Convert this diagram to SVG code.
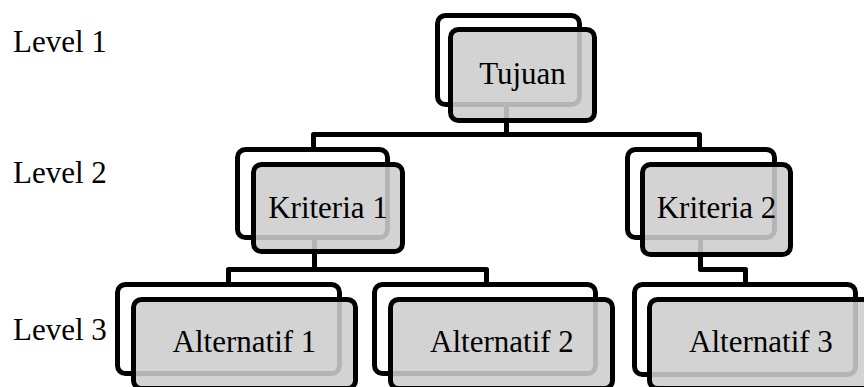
<svg xmlns="http://www.w3.org/2000/svg" width="864" height="387" viewBox="0 0 864 387">
  <style>
    .back { fill: #ffffff; stroke: #000000; stroke-width: 5; }
    .front { fill: rgb(205,205,205); fill-opacity: 0.88; stroke: #000000; stroke-width: 5; }
    .label { font-family: "Liberation Serif", "Times New Roman", serif; font-size: 31px; fill: #000000; }
    .node-text { text-anchor: middle; }
    .link { fill: none; stroke: #000000; stroke-width: 5; stroke-linejoin: round; }
  </style>

  <rect width="864" height="387" fill="#ffffff"/>

  <!-- hierarchy connectors, drawn beneath the boxes -->
  <g id="connectors">
    <path class="link" d="M506.5,104 V134.5 M313.5,149.5 V134.5 H699.5 V149.5"/>
    <path class="link" d="M314.5,237.5 V269.5 M228.5,284.5 V269.5 H486.5 V284.5"/>
    <path class="link" d="M700.5,237.5 V269.5 H745.5 V284.5"/>
  </g>

  <!-- level captions -->
  <g id="levels">
    <text class="label" x="13" y="52">Level 1</text>
    <text class="label" x="13" y="183">Level 2</text>
    <text class="label" x="13" y="340">Level 3</text>
  </g>

  <g id="tujuan">
    <rect class="back" x="437.5" y="15.5" width="142" height="89" rx="8"/>
    <rect class="front" x="450.5" y="29.5" width="144" height="91" rx="8"/>
    <text class="label node-text" x="522.5" y="84">Tujuan</text>
  </g>

  <g id="kriteria-1">
    <rect class="back" x="237.5" y="149.5" width="150" height="88" rx="8"/>
    <rect class="front" x="253.5" y="164.5" width="149" height="87" rx="8"/>
    <text class="label node-text" x="328" y="218">Kriteria 1</text>
  </g>

  <g id="kriteria-2">
    <rect class="back" x="627.5" y="149.5" width="147" height="88" rx="8"/>
    <rect class="front" x="642.5" y="164.5" width="148" height="90" rx="8"/>
    <text class="label node-text" x="716.5" y="218">Kriteria 2</text>
  </g>

  <g id="alternatif-1">
    <rect class="back" x="117.5" y="284.5" width="222" height="89" rx="8"/>
    <rect class="front" x="133.5" y="299.5" width="222" height="89" rx="8"/>
    <text class="label node-text" x="244.5" y="352">Alternatif 1</text>
  </g>

  <g id="alternatif-2">
    <rect class="back" x="374.5" y="284.5" width="221" height="89" rx="8"/>
    <rect class="front" x="390.5" y="299.5" width="222" height="89" rx="8"/>
    <text class="label node-text" x="502" y="352">Alternatif 2</text>
  </g>

  <g id="alternatif-3">
    <rect class="back" x="634.5" y="284.5" width="221" height="90" rx="8"/>
    <rect class="front" x="649.5" y="299.5" width="222" height="89" rx="8"/>
    <text class="label node-text" x="761" y="352">Alternatif 3</text>
  </g>
</svg>
